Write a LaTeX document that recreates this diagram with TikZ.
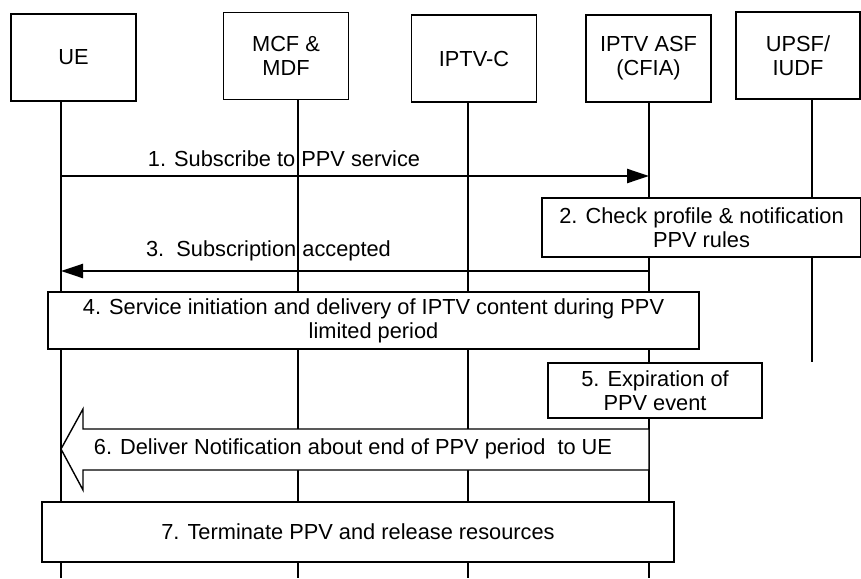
\documentclass[tikz,border=0pt]{standalone}
\usepackage{fontspec}
\setmainfont{Liberation Sans}
\usetikzlibrary{arrows.meta}
\begin{document}
\begin{tikzpicture}[x=1pt,y=-1pt,
  txt/.style={font=\fontsize{21.8}{24}\selectfont},
  ent/.style={txt,draw,line width=1.4pt,fill=white,minimum width=125pt,minimum height=87pt,align=center,inner sep=0pt},
  life/.style={line width=1.4pt},
  msg/.style={line width=2.4pt,-{Triangle[length=22pt,width=14pt]}},
  act/.style={txt,draw,line width=1.4pt,fill=white,align=center,inner sep=0pt},
  lbl/.style={txt,inner sep=0pt}
]
\useasboundingbox (0,0) rectangle (861,578);
% entities
\node[ent] (ue)   at (73.5,57.5) {UE};
\node[ent] (mcf)  at (286,56)    {MCF \&\\MDF};
\node[ent] (ipc)  at (474,58.5)  {IPTV-C};
\node[ent] (asf)  at (648.5,58.5){IPTV ASF\\(CFIA)};
\node[ent,minimum width=124pt] (upsf) at (798,55.5) {UPSF/\\IUDF};
% lifeline bottoms
\coordinate (ueB)   at (61,578);
\coordinate (mcfB)  at (298,578);
\coordinate (ipcB)  at (468,578);
\coordinate (asfB)  at (649,578);
\coordinate (upsfB) at (812,362);
\draw[life] (ue.south -| ueB) -- (ueB);
\draw[life] (mcf.south -| mcfB) -- (mcfB);
\draw[life] (ipc.south -| ipcB) -- (ipcB);
\draw[life] (asf.south -| asfB) -- (asfB);
\draw[life] (upsf.south -| upsfB) -- (upsfB);
% message 1
\coordinate (m1a) at (61,176);
\coordinate (m1b) at (649,176);
\draw[msg] (m1a) -- (m1b);
\node[lbl] (l1) at (284,159) {1. Subscribe to PPV service};
% action 2
\node[act,minimum width=319pt,minimum height=59pt] (a2) at (701.5,227.5) {2. Check profile \& notification\\PPV rules};
% message 3
\coordinate (m3a) at (649,271);
\coordinate (m3b) at (61,271);
\draw[msg] (m3a) -- (m3b);
\node[lbl] (l3) at (268.5,251) {3.\ \ Subscription accepted};
% action 4
\node[act,minimum width=651pt,minimum height=57pt] (a4) at (373.5,320.5) {4. Service initiation and delivery of IPTV content during PPV\\limited period};
% action 5
\node[act,minimum width=214pt,minimum height=55pt] (a5) at (655,390.5) {5. Expiration of\\PPV event};
% message 6 (block arrow)
\coordinate (m6tip) at (61,449);
\draw[line width=1.4pt,fill=white] (m6tip) -- (83,409) -- (83,429) -- (649,429) -- (649,470) -- (83,470) -- (83,490) -- cycle;
\node[lbl] (l6) at (353,449) {6. Deliver Notification about end of PPV period\ \ to UE};
% action 7
\node[act,minimum width=632pt,minimum height=60pt] (a7) at (358,532) {7. Terminate PPV and release resources};
\end{tikzpicture}
\end{document}
